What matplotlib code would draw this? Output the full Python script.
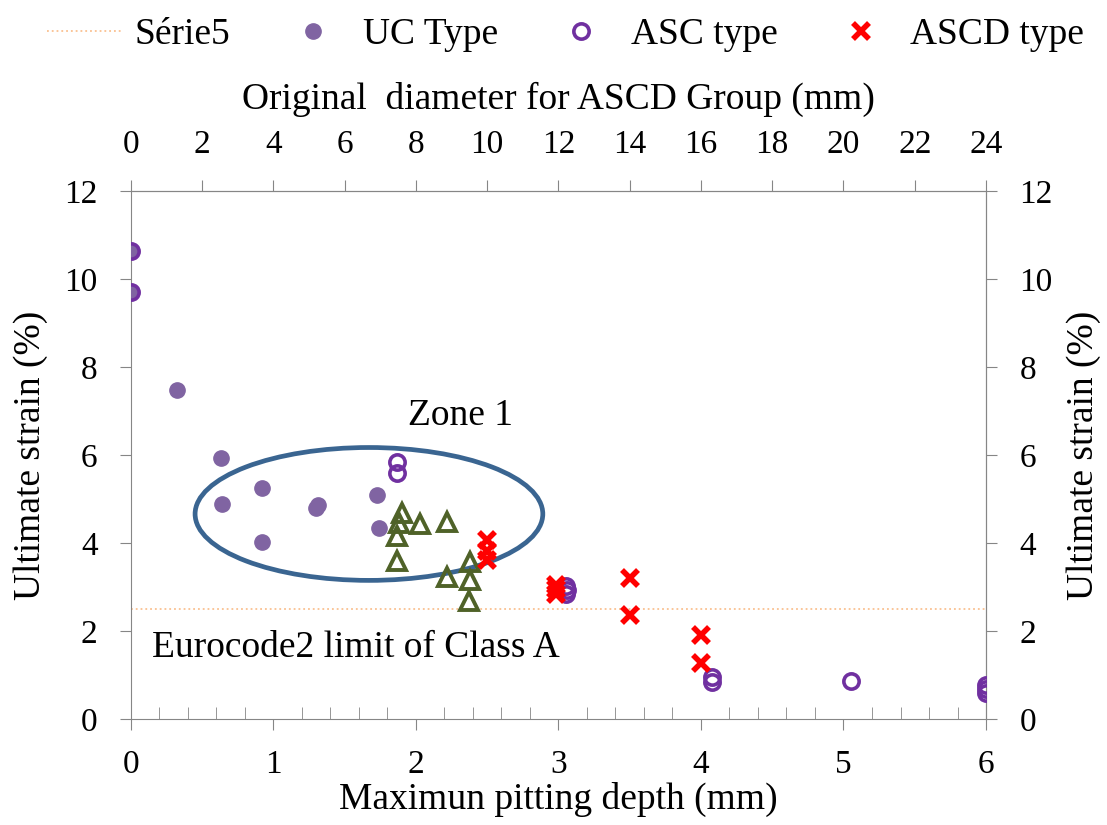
import matplotlib.pyplot as plt
import numpy as np
from matplotlib.patches import Ellipse

plt.rcParams['font.family'] = ['Liberation Serif', 'DejaVu Serif']

# UC type (filled circles)
uc_x = [0.0, 0.0, 0.32, 0.63, 0.64, 0.92, 0.92, 1.30, 1.31, 1.73, 1.74]
uc_y = [10.63, 9.70, 7.48, 5.93, 4.88, 5.25, 4.02, 4.80, 4.87, 5.10, 4.35]

# ASC type (open circles)
asc_x = [0.0, 0.0, 1.87, 1.87, 3.05, 3.06, 3.05, 4.08, 4.08, 5.05, 6.0, 6.0, 6.0]
asc_y = [10.63, 9.70, 5.85, 5.60, 3.02, 2.93, 2.85, 0.95, 0.85, 0.87, 0.78, 0.68, 0.60]

# ASCD type (crosses)
ascd_x = [2.50, 2.50, 2.50, 2.98, 2.98, 2.98, 3.50, 3.50, 4.00, 4.00]
ascd_y = [4.06, 3.82, 3.62, 3.05, 2.95, 2.85, 3.20, 2.36, 1.91, 1.27]

# unlabeled series (open triangles)
tri_x = [1.90, 1.88, 1.87, 1.87, 2.03, 2.22, 2.22, 2.38, 2.38, 2.37]
tri_y = [4.69, 4.45, 4.15, 3.60, 4.43, 4.48, 3.22, 3.56, 3.15, 2.68]

# Eurocode2 class A limit
limit_x = [0, 6]
limit_y = [2.5, 2.5]

fs = 27    # labels / texts
tfs = 24   # tick labels
grey = '#868686'

fig = plt.figure(figsize=(11.07, 8.25), dpi=100)
ax = fig.add_axes([0.1183, 0.1285, 0.7724, 0.64])

ax.plot(limit_x, limit_y, color='#FAC090', lw=1.3, ls=':', label='Série5', zorder=1)
ax.add_patch(Ellipse((1.67, 4.66), 2.44, 3.02, fill=False, ec='#3A6591', lw=3.4, zorder=2))
ax.plot(uc_x, uc_y, 'o', color='#8064A2', ms=11, ls='none', label='UC Type', zorder=3)
ax.plot(asc_x, asc_y, 'o', mfc='none', mec='#7030A0', mew=2.6, ms=11, ls='none',
        label='ASC type', zorder=4)
ax.plot(tri_x, tri_y, '^', mfc='none', mec='#4F6228', mew=2.8, ms=13, ls='none', zorder=4)
ax.plot(ascd_x, ascd_y, 'x', color='#FF0000', mew=4, ms=11, ls='none',
        label='ASCD type', zorder=5)

ax.text(0.15, 1.61, 'Eurocode2 limit of Class A', fontsize=fs, va='center', ha='left')
ax.text(2.31, 6.89, 'Zone 1', fontsize=fs, va='center', ha='center')

ax.set_xlim(0, 6)
ax.set_ylim(0, 12)
ax.set_xticks(np.arange(0, 7, 1))
ax.set_xticks(np.arange(0, 6.01, 0.2), minor=True)
ax.set_yticks(np.arange(0, 13, 2))
ax.tick_params(axis='x', which='major', direction='out', length=8, color=grey,
               labelsize=tfs, pad=14)
ax.tick_params(axis='x', which='minor', direction='in', length=9, color=grey)
ax.tick_params(axis='y', direction='out', length=8, color=grey, labelsize=tfs, pad=16)
ax.set_xlabel('Maximun pitting depth (mm)', fontsize=fs, labelpad=1)
ax.set_ylabel('Ultimate strain (%)', fontsize=fs, labelpad=12)
for s in ax.spines.values():
    s.set_color(grey)

top = ax.secondary_xaxis('top', functions=(lambda v: v * 4, lambda v: v / 4))
top.set_xticks(np.arange(0, 25, 2))
top.tick_params(direction='out', length=8, color=grey, labelsize=tfs, pad=14)
top.set_xlabel('Original  diameter for ASCD Group (mm)', fontsize=fs, labelpad=15)
top.spines['top'].set_color(grey)

right = ax.secondary_yaxis('right')
right.set_yticks(np.arange(0, 13, 2))
right.tick_params(direction='out', length=8, color=grey, labelsize=tfs, pad=16)
right.set_ylabel('Ultimate strain (%)', fontsize=fs, labelpad=10)
right.spines['right'].set_color(grey)

fig.legend(loc='center', bbox_to_anchor=(0.511, 0.958), ncol=4, frameon=False,
           fontsize=fs, handlelength=2.0, handletextpad=0.32, columnspacing=1.22)

fig.savefig('out.png', dpi=100)
